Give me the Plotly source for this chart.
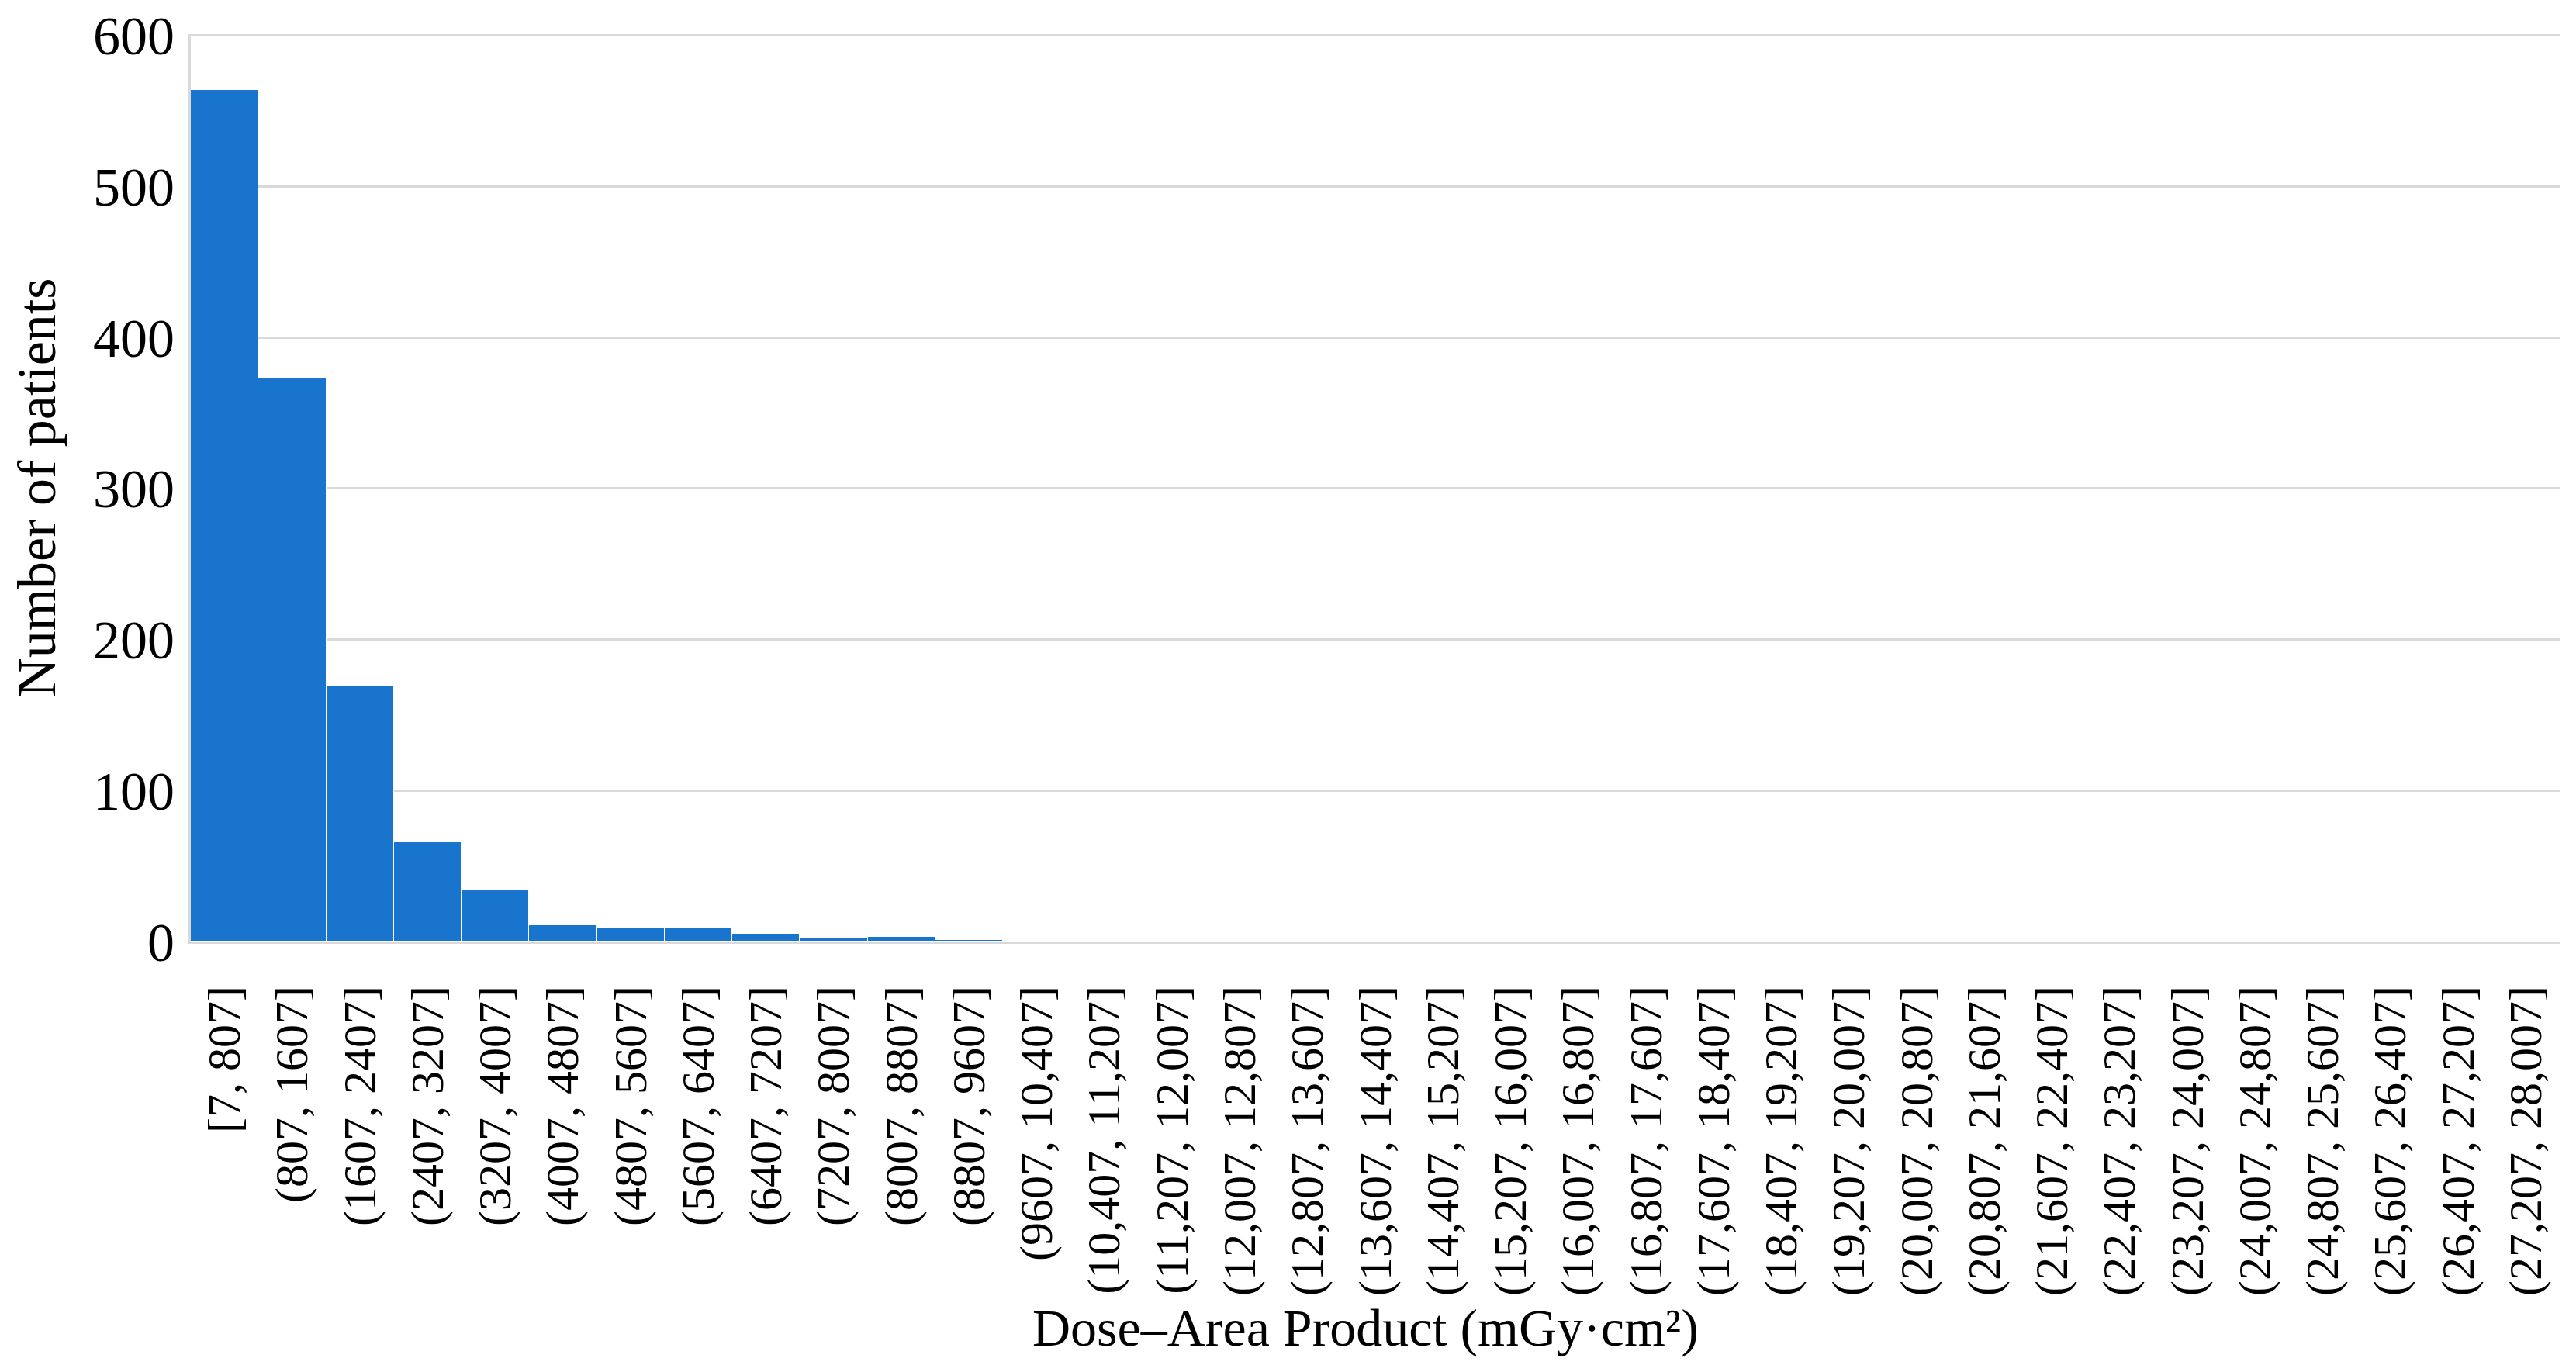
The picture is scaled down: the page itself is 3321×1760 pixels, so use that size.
import plotly.graph_objects as go

categories = [
    "[7, 807]", "(807, 1607]", "(1607, 2407]", "(2407, 3207]", "(3207, 4007]",
    "(4007, 4807]", "(4807, 5607]", "(5607, 6407]", "(6407, 7207]", "(7207, 8007]",
    "(8007, 8807]", "(8807, 9607]", "(9607, 10,407]", "(10,407, 11,207]",
    "(11,207, 12,007]", "(12,007, 12,807]", "(12,807, 13,607]", "(13,607, 14,407]",
    "(14,407, 15,207]", "(15,207, 16,007]", "(16,007, 16,807]", "(16,807, 17,607]",
    "(17,607, 18,407]", "(18,407, 19,207]", "(19,207, 20,007]", "(20,007, 20,807]",
    "(20,807, 21,607]", "(21,607, 22,407]", "(22,407, 23,207]", "(23,207, 24,007]",
    "(24,007, 24,807]", "(24,807, 25,607]", "(25,607, 26,407]", "(26,407, 27,207]",
    "(27,207, 28,007]",
]
patients = [564, 373, 169, 66, 34, 11, 9, 9, 5, 2, 3, 1] + [0] * 23
y_ticks = [0, 100, 200, 300, 400, 500, 600]
x_title = "Dose–Area Product (mGy·cm²)"
y_title = "Number of patients"

FONT = "Liberation Serif"
GRID = "#D9D9D9"

fig = go.Figure(
    go.Bar(
        x=categories,
        y=patients,
        marker=dict(color="#1874CD", line=dict(color="white", width=1)),
    )
)

fig.update_layout(
    width=3321,
    height=1760,
    margin=dict(l=246, r=21, t=44, b=546),
    paper_bgcolor="white",
    plot_bgcolor="white",
    bargap=0,
    showlegend=False,
    font=dict(family=FONT, color="black"),
    annotations=[
        dict(text=x_title, xref="paper", yref="paper", x=0.4958, y=-0.4255,
             xanchor="center", yanchor="middle", showarrow=False,
             font=dict(family=FONT, size=68, color="black")),
        dict(text=y_title, xref="paper", yref="paper", x=-0.0652, y=0.5,
             xanchor="center", yanchor="middle", textangle=-90, showarrow=False,
             font=dict(family=FONT, size=70, color="black")),
    ],
)

fig.update_xaxes(
    type="category",
    tickangle=-90,
    tickfont=dict(family=FONT, size=60, color="black"),
    ticks="",
    ticklabelstandoff=30,
    showline=True,
    linecolor=GRID,
    linewidth=3,
    showgrid=False,
    automargin=False,
)

fig.update_yaxes(
    range=[0, 601],
    tickvals=y_ticks,
    tickfont=dict(family=FONT, size=70, color="black"),
    ticks="",
    ticklabelstandoff=4,
    showline=True,
    linecolor=GRID,
    linewidth=3,
    showgrid=True,
    gridcolor=GRID,
    gridwidth=3,
    zeroline=False,
    automargin=False,
)

# remove the browser's default 8px body margin so the figure fills the window
fig.write_html(
    "out.html",
    config={"displayModeBar": False},
    post_script="document.body.style.margin='0';document.body.style.overflow='hidden';",
)
